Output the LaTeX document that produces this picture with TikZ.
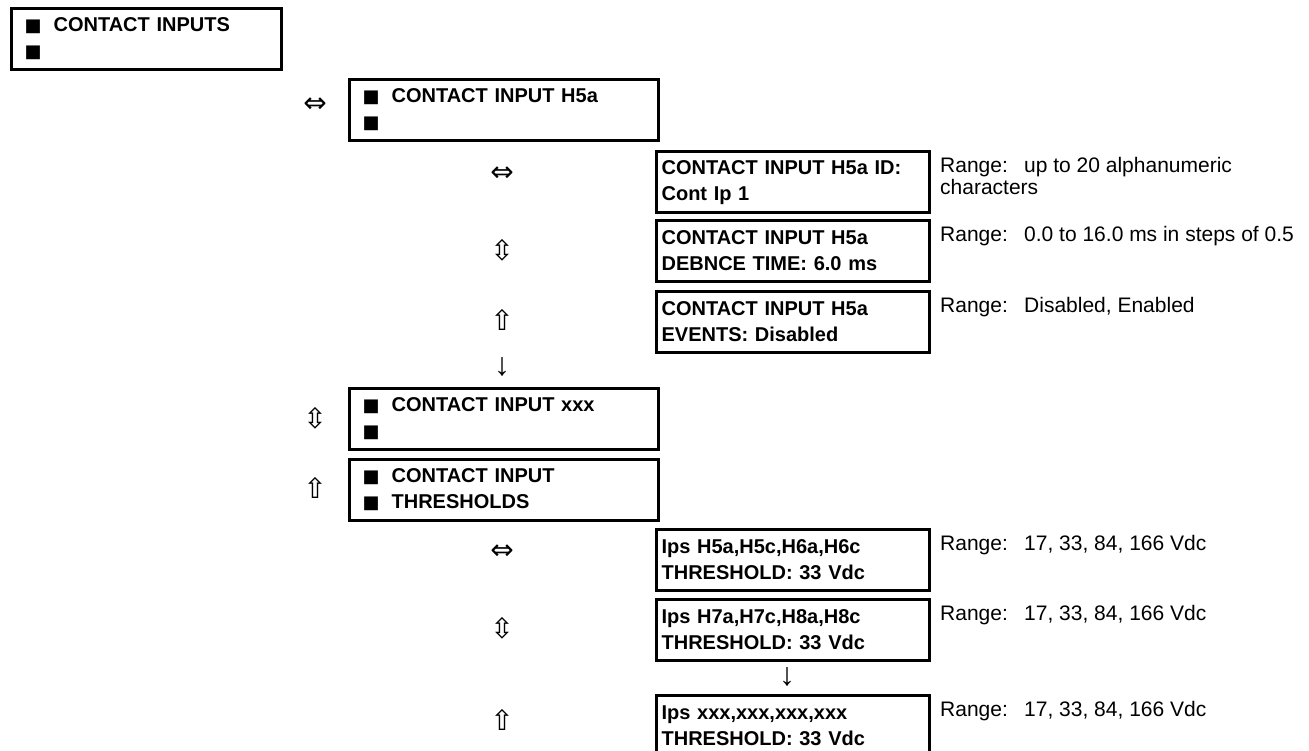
\documentclass[tikz,border=0pt]{standalone}
\usepackage{fontspec}
\setmainfont{Liberation Sans}
\newfontfamily\symfont{DejaVu Sans}
\newcommand{\sq}{{\symfont\fontsize{18}{18}\selectfont ■}}
\newcommand{\sqm}{\makebox[29pt][l]{\sq}}
\newcommand{\rng}{\makebox[84pt][l]{Range:}}
\begin{document}
\begin{tikzpicture}[x=1pt,y=-1pt,
  boxbase/.style={draw, line width=3.2pt, anchor=north west, minimum height=61pt,
    inner ysep=0pt, align=left, font=\fontsize{20}{26}\selectfont\bfseries},
  topbox/.style={boxbase, inner xsep=13pt, text width=244pt},
  menubox/.style={boxbase, inner xsep=13pt, text width=283pt},
  valbox/.style={boxbase, inner xsep=5pt, text width=263pt},
  arr/.style={font=\symfont\fontsize{28}{28}\selectfont, inner sep=0pt},
  thinarr/.style={font=\fontsize{32}{32}\selectfont, inner sep=0pt},
  rangetext/.style={anchor=north west, inner sep=0pt, align=left,
    font=\fontsize{21}{22}\selectfont}
]
\useasboundingbox (0,0) rectangle (1309,751);

\node[topbox] (ci) at (10,7) {\sqm CONTACT INPUTS\\\sq};

\node[arr] (a1) at (315,105) {⇔};
\node[menubox] (h5a) at (348,78) {\sqm CONTACT INPUT H5a\\\sq};

\node[arr] (a2) at (502,174) {⇔};
\node[valbox] (id) at (655,150) {CONTACT INPUT H5a ID:\\Cont Ip 1};
\node[rangetext] (r1) at (940,157) {\rng up to 20 alphanumeric\\characters};

\node[arr] (a3) at (502,250) {⇳};
\node[valbox] (deb) at (655,219) {CONTACT INPUT H5a\\DEBNCE TIME: 6.0 ms};
\node[rangetext] (r2) at (940,226) {\rng 0.0 to 16.0 ms in steps of 0.5};

\node[arr] (a4) at (502,320) {⇧};
\node[valbox] (ev) at (655,290) {CONTACT INPUT H5a\\EVENTS: Disabled};
\node[rangetext] (r3) at (940,297) {\rng Disabled, Enabled};

\node[thinarr] (a5) at (502,367) {↓};

\node[arr] (a6) at (315,418) {⇳};
\node[menubox] (xxx) at (348,387) {\sqm CONTACT INPUT xxx\\\sq};

\node[arr] (a7) at (315,488) {⇧};
\node[menubox] (thr) at (348,458) {\sqm CONTACT INPUT\\\sqm THRESHOLDS};

\node[arr] (a8) at (502,552) {⇔};
\node[valbox] (ips1) at (655,528) {Ips H5a,H5c,H6a,H6c\\THRESHOLD: 33 Vdc};
\node[rangetext] (r4) at (940,535) {\rng 17, 33, 84, 166 Vdc};

\node[arr] (a9) at (502,628) {⇳};
\node[valbox] (ips2) at (655,598) {Ips H7a,H7c,H8a,H8c\\THRESHOLD: 33 Vdc};
\node[rangetext] (r5) at (940,605) {\rng 17, 33, 84, 166 Vdc};

\node[thinarr] (a10) at (787,677) {↓};

\node[arr] (a11) at (502,720) {⇧};
\node[valbox] (ips3) at (655,694) {Ips xxx,xxx,xxx,xxx\\THRESHOLD: 33 Vdc};
\node[rangetext] (r6) at (940,701) {\rng 17, 33, 84, 166 Vdc};
\end{tikzpicture}
\end{document}
